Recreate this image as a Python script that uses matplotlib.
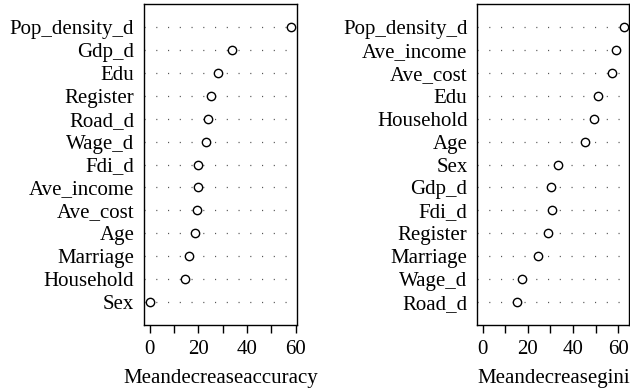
import numpy as np
import matplotlib.pyplot as plt

plt.rcParams['font.family'] = ['Liberation Serif', 'DejaVu Serif']

# variable importance from the random forest (sorted, top to bottom)
acc_vars = ['Pop_density_d', 'Gdp_d', 'Edu', 'Register', 'Road_d', 'Wage_d',
            'Fdi_d', 'Ave_income', 'Ave_cost', 'Age', 'Marriage', 'Household', 'Sex']
acc_vals = [58.3, 33.9, 28.3, 25.3, 24.0, 23.2, 19.9, 19.8, 19.6, 18.6, 16.0, 14.6, 0.0]

gini_vars = ['Pop_density_d', 'Ave_income', 'Ave_cost', 'Edu', 'Household', 'Age',
             'Sex', 'Gdp_d', 'Fdi_d', 'Register', 'Marriage', 'Wage_d', 'Road_d']
gini_vals = [62.5, 59.0, 57.5, 51.1, 49.2, 45.2, 33.3, 30.3, 30.5, 28.8, 24.4, 17.2, 15.3]

xticks = [0, 10, 20, 30, 40, 50, 60]
xticklabels = ['0', '', '20', '', '40', '', '60']

fig = plt.figure(figsize=(6.3, 3.89), dpi=100)
ax1 = fig.add_axes([0.2286, 0.1645, 0.2429, 0.8252])
ax2 = fig.add_axes([0.7576, 0.1645, 0.2413, 0.8252])

FS = 15


def dotchart(ax, names, vals, xlabel):
    n = len(names)
    y = np.arange(n, 0, -1)
    for yy in y:
        ax.axhline(yy, color='#555555', lw=0.9, linestyle=(0, (0.9, 8.5)), zorder=1)
    ax.plot(vals, y, 'o', mfc='white', mec='black', ms=6, mew=1.0, zorder=3)
    xmax = max(vals)
    xmin = 0
    pad = 0.04 * (xmax - xmin)
    ax.set_xlim(xmin - pad, xmax + pad)
    ax.set_ylim(0, n + 1)
    ax.set_yticks(y)
    ax.set_yticklabels(names)
    ax.tick_params(axis='y', length=0, pad=7, labelsize=FS)
    ax.set_xticks(xticks)
    ax.set_xticklabels(xticklabels)
    ax.tick_params(axis='x', direction='out', length=6, width=1.0, pad=5, labelsize=FS)
    ax.set_xlabel(xlabel, fontsize=FS, labelpad=7)
    for s in ax.spines.values():
        s.set_linewidth(1.0)


dotchart(ax1, acc_vars, acc_vals, 'Meandecreaseaccuracy')
dotchart(ax2, gini_vars, gini_vals, 'Meandecreasegini')

fig.savefig('out.png', dpi=100)
